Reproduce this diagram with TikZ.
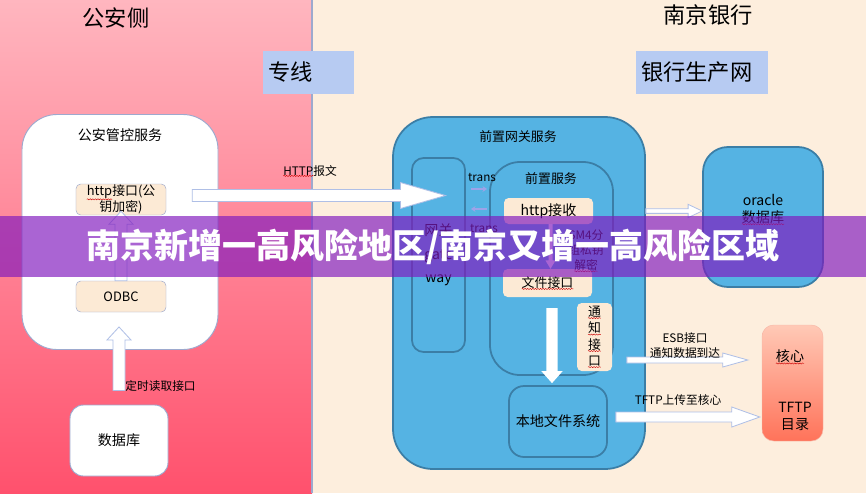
\documentclass[tikz,border=0pt]{standalone}
\usepackage{fontspec}
\setmainfont{Noto Sans CJK SC}
\usepackage{tikz}
\usetikzlibrary{positioning}
\usetikzlibrary{calc}
\usetikzlibrary{arrows.meta}
\usetikzlibrary{decorations.pathmorphing}
\definecolor{cream}{HTML}{FDEEDD}
\definecolor{pinktop}{HTML}{FFB6BF}
\definecolor{pinkbot}{HTML}{FF516D}
\definecolor{tagblue}{HTML}{B7CBF2}
\definecolor{svcblue}{HTML}{55B3E3}
\definecolor{svcedge}{HTML}{3B7EA6}
\definecolor{boxcream}{HTML}{FCEAD5}
\definecolor{edgegray}{HTML}{9DA9CE}
\definecolor{coretop}{HTML}{FFC9B6}
\definecolor{corebot}{HTML}{FF735A}
\definecolor{coreedge}{HTML}{F7B8A8}
\definecolor{bannerpurple}{HTML}{8119BE}
\definecolor{arrowedge}{HTML}{AFBFE6}
\definecolor{transline}{HTML}{9DA3E8}

% red spell-check squiggle under a word
\newcommand{\wavy}[1]{\tikz[baseline=(w.base)]{\node[inner sep=0pt,outer sep=0pt,draw=none,fill=none,shape=rectangle,minimum size=0pt] (w) {#1};\draw[spell] ([yshift=-0.6pt]w.south west) -- ([yshift=-0.6pt]w.south east);}}

% wide arrow: style, from, to, half shaft, half head, head length
\newcommand{\blockarrow}[6][]{%
  \coordinate (ba) at ($(#3)!#6!(#2)$);
  \path[#1] ($(#2)!#4!90:(#3)$) -- ($(ba)!#4!90:(#3)$) -- ($(ba)!#5!90:(#3)$) -- (#3)
    -- ($(ba)!#5!-90:(#3)$) -- ($(ba)!#4!-90:(#3)$) -- ($(#2)!#4!-90:(#3)$) -- cycle;}

\begin{document}
\begin{tikzpicture}[x=0.03cm, y=-0.03cm,
    lbl/.style={font=\fontsize{12}{14.5}\selectfont, inner sep=1pt, align=center},
    midtxt/.style={font=\fontsize{11}{13.6}\selectfont, inner sep=1pt, align=center},
    smalltxt/.style={font=\fontsize{10}{12.8}\selectfont, inner sep=1pt, align=center},
    bighead/.style={font=\fontsize{19}{22}\selectfont},
    tag/.style={fill=tagblue, minimum height=1.29cm, bighead, inner xsep=0.15cm, inner ysep=0pt, align=left},
    whitebox/.style={draw=edgegray, fill=white, line width=0.8pt},
    creambox/.style={fill=boxcream, rounded corners=4pt, inner sep=0.5pt},
    bluebox/.style={draw=svcedge, fill=svcblue, line width=1.5pt},
    hollow/.style={draw=arrowedge, fill=white, line width=0.7pt},
    plainarrow/.style={draw=none, fill=white},
    trans/.style={draw=transline, line width=1.2pt, -{Stealth[length=4pt,width=5pt]}},
    spell/.style={draw=red!80!black, fill=none, sharp corners, line width=0.35pt, decorate, decoration={snake, amplitude=0.5pt, segment length=2.2pt}},
]
\useasboundingbox (0,0) rectangle (866,493);
\fill[cream] (0,0) rectangle (866,493);
\shade[top color=pinktop, bottom color=pinkbot] (0,0) rectangle (312,493);
\draw[edgegray, line width=1pt] (312,0) -- (312,493);

% the two sides
\node[bighead] (gaside) at (116,18) {公安侧};
\node[bighead] (bankside) at (708,15) {南京银行};
\node[tag, text width=2.43cm] (zx) at (308.5,72.5) {专线};
\node[tag, text width=3.66cm] (yh) at (702,72.5) {银行生产网};

% 公安管控服务
\node[whitebox, rounded corners=1.05cm, minimum width=5.88cm, minimum height=7.05cm] (ga) at (120,232) {};
\node[lbl] (gatitle) at (120,135) {公安管控服务};
\node[creambox, draw=edgegray, minimum width=2.7cm, minimum height=0.93cm, midtxt, inner sep=0.5pt] (http) at (121,199.5) {\wavy{http}接口(公\\钥加密)};
\node[creambox, draw=edgegray, minimum width=2.7cm, minimum height=0.93cm, midtxt] (odbc) at (121,296.5) {ODBC};
\node[whitebox, rounded corners=0.4cm, minimum width=2.94cm, minimum height=2.13cm, lbl] (db) at (119,440.5) {数据库};

\coordinate (odA) at (odbc.north);
\coordinate (odB) at ($(http.south)+(0,-4)$);
\blockarrow[hollow]{odA}{odB}{0.18cm}{0.36cm}{0.39cm}
\coordinate (dbA) at ($(db.north)+(0,-14)$);
\coordinate (dbB) at ($(ga.south)+(-1,-23)$);
\blockarrow[hollow]{dbA}{dbB}{0.18cm}{0.36cm}{0.39cm}
\node[smalltxt, anchor=west] (readlbl) at (124,386) {定时读取接口};

% 前置网关服务
\node[bluebox, rounded corners=1.2cm, minimum width=7.56cm, minimum height=10.56cm] (gws) at (519,293) {};
\node[midtxt] (gwstitle) at (518,137) {前置网关服务};
\node[bluebox, rounded corners=0.35cm, minimum width=1.59cm, minimum height=5.82cm, font=\fontsize{12}{20}\selectfont, align=center] (gw) at (438.5,255) {网关\\gate\\way};
\node[bluebox, rounded corners=0.9cm, minimum width=3.69cm, minimum height=6.39cm] (pre) at (551.5,268.5) {};
\node[midtxt] (pretitle) at (551,179) {前置服务};
\node[creambox, minimum width=2.67cm, minimum height=0.78cm, lbl] (recv) at (548.5,211) {http接收};
\node[creambox, minimum width=2.67cm, minimum height=0.84cm, midtxt] (file) at (547.5,283) {\wavy{文件接口}};
\node[creambox, minimum width=1.05cm, minimum height=2.04cm, font=\fontsize{11}{14}\selectfont, align=center] (notify) at (594.5,337) {\wavy{通}\\\wavy{知}\\\wavy{接}\\\wavy{口}};
\node[bluebox, rounded corners=0.45cm, minimum width=2.94cm, minimum height=2.13cm, lbl] (local) at (558,421.5) {本地文件系统};

\draw[trans, shorten <=0.15cm, shorten >=0.06cm] (gw.east |- 0,189) -- (pre.west |- 0,189);
\draw[trans, shorten <=0.06cm, shorten >=0.15cm] (pre.west |- 0,209) -- (gw.east |- 0,209);
\node[smalltxt] (trans1) at (482,177) {trans};
\node[smalltxt] (trans2) at (484,228) {trans};

\coordinate (rvA) at ($(recv.south)+(2,0)$);
\coordinate (rvB) at ($(file.north)+(3,0)$);
\blockarrow[plainarrow]{rvA}{rvB}{0.06cm}{0.15cm}{0.25cm}
\node[smalltxt] (sm4) at (586,251) {SM4分\\组私钥\\\wavy{解密}};

\coordinate (flA) at ($(file.south)+(4.5,11)$);
\coordinate (flB) at ($(local.north)+(-6,-2)$);
\blockarrow[plainarrow]{flA}{flB}{0.17cm}{0.32cm}{0.36cm}

% 专线 HTTP
\coordinate (httpA) at ($(http.east)+(26,-4)$);
\coordinate (httpB) at ($(gw.center |- httpA)+(7,0)$);
\blockarrow[hollow]{httpA}{httpB}{0.18cm}{0.39cm}{1.35cm}
\node[smalltxt] (httplbl) at (310,171) {\wavy{HTTP}报文};

% 银行生产网
\node[bluebox, rounded corners=0.75cm, minimum width=3.6cm, minimum height=4.2cm] (ora) at (763,217) {};
\node[lbl] (oratxt) at (763,209.5) {oracle\\\wavy{数据库}};
\coordinate (oraA) at (gws.east |- 0,211);
\coordinate (oraB) at (ora.west |- oraA);
\blockarrow[hollow]{oraA}{oraB}{0.07cm}{0.2cm}{0.42cm}

\node[draw=coreedge, top color=coretop, bottom color=corebot, rounded corners=0.35cm, minimum width=1.83cm, minimum height=3.48cm] (core) at (792.5,383) {};
\node[lbl] (coretitle) at (790,357) {\wavy{核心}};
\node[lbl] (coretftp) at (795,416.5) {TFTP\\目录};

\coordinate (esbA) at ($(gws.east |- 0,360)+(-19,0)$);
\coordinate (esbB) at ($(core.west |- esbA)+(-14,0)$);
\blockarrow[hollow]{esbA}{esbB}{0.09cm}{0.21cm}{0.75cm}
\node[smalltxt] (esblbl) at (685,345.5) {ESB接口\\通知数据到达};

\coordinate (tfA) at ($(gws.east |- 0,417)+(-30,0)$);
\coordinate (tfB) at ($(core.west |- tfA)+(-2,0)$);
\blockarrow[hollow]{tfA}{tfB}{0.15cm}{0.3cm}{0.84cm}
\node[smalltxt] (tflbl) at (678,400) {TFTP上传至核心};

% banner across the middle
\fill[bannerpurple, opacity=0.67] (0,216) rectangle (866,277);
\node[font=\fontsize{29}{33}\selectfont\bfseries, text=white] (banner) at (433,247) {南京新增一高风险地区/南京又增一高风险区域};
\end{tikzpicture}
\end{document}
